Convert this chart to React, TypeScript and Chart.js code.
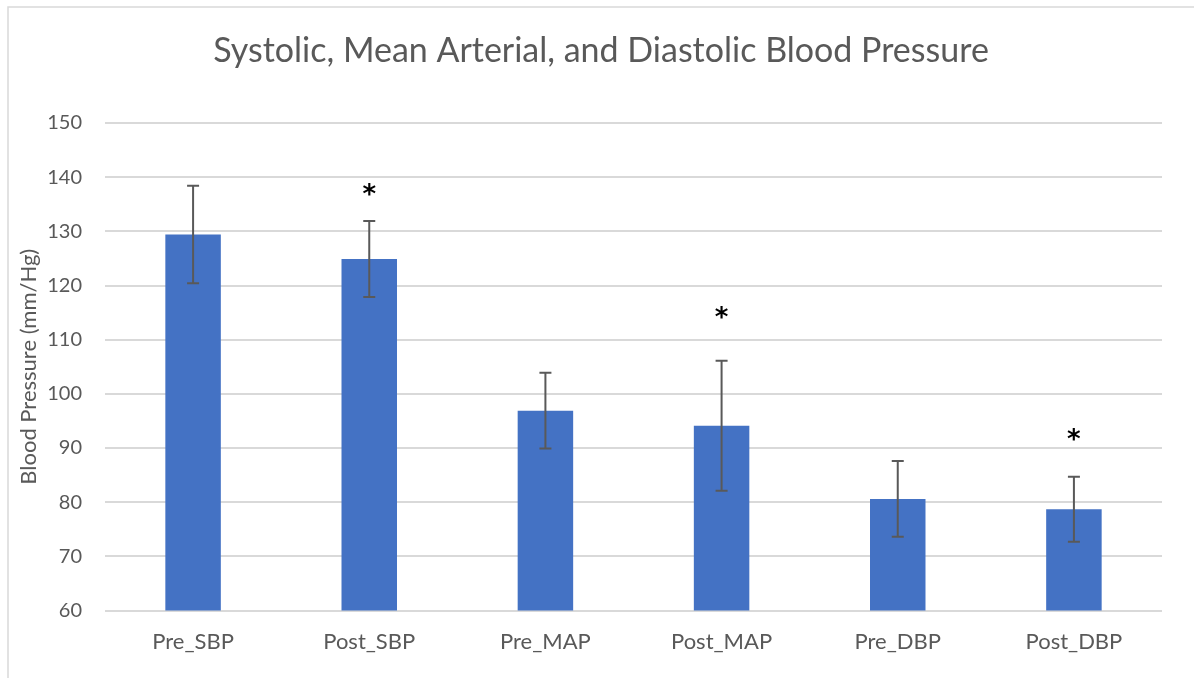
import React, { useEffect, useRef } from "react";
import { Chart, registerables } from "chart.js";

Chart.register(...registerables);

const categories = ["Pre_SBP", "Post_SBP", "Pre_MAP", "Post_MAP", "Pre_DBP", "Post_DBP"];
const means = [129.4, 124.9, 96.9, 94.1, 80.6, 78.7];
const errors = [9.0, 7.0, 7.0, 12.0, 7.0, 6.0];
// asterisk marks (significance) in data units; null = none
const asteriskValues: (number | null)[] = [null, 138, null, 115.3, null, 92.8];
const yTicks = [60, 70, 80, 90, 100, 110, 120, 130, 140, 150];

const TITLE = "Systolic, Mean Arterial, and Diastolic Blood Pressure";
const Y_TITLE = "Blood Pressure (mm/Hg)";
const FONT = "Lato";
const TEXT = "#595959";

export default function App() {
  const ref = useRef<HTMLCanvasElement | null>(null);

  useEffect(() => {
    if (!ref.current) return;

    const framePlugin = {
      id: "frame",
      beforeDraw(chart: any) {
        const ctx = chart.ctx;
        ctx.save();
        ctx.fillStyle = "#ffffff";
        ctx.fillRect(0, 0, chart.width, chart.height);
        ctx.strokeStyle = "#d9d9d9";
        ctx.lineWidth = 1.5;
        ctx.beginPath();
        ctx.moveTo(8, chart.height);
        ctx.lineTo(8, 7);
        ctx.lineTo(chart.width, 7);
        ctx.stroke();
        ctx.restore();
      },
      afterDraw(chart: any) {
        const ctx = chart.ctx;
        ctx.save();
        ctx.fillStyle = TEXT;
        ctx.font = `34px ${FONT}`;
        ctx.textAlign = "center";
        ctx.textBaseline = "alphabetic";
        ctx.fillText(TITLE, 601, 62);
        ctx.restore();
      },
    };

    const errorPlugin = {
      id: "errorbars",
      afterDatasetsDraw(chart: any) {
        const ctx = chart.ctx;
        const meta = chart.getDatasetMeta(0);
        const y = chart.scales.y;
        ctx.save();
        ctx.strokeStyle = "#595959";
        ctx.lineWidth = 2;
        meta.data.forEach((bar: any, i: number) => {
          const x = bar.x;
          const top = y.getPixelForValue(means[i] + errors[i]);
          const bot = y.getPixelForValue(means[i] - errors[i]);
          ctx.beginPath();
          ctx.moveTo(x, top);
          ctx.lineTo(x, bot);
          ctx.moveTo(x - 6, top);
          ctx.lineTo(x + 6, top);
          ctx.moveTo(x - 6, bot);
          ctx.lineTo(x + 6, bot);
          ctx.stroke();
          const a = asteriskValues[i];
          if (a !== null && a !== undefined) {
            ctx.fillStyle = "#000000";
            ctx.font = `bold 26px "DejaVu Sans"`;
            ctx.textAlign = "center";
            ctx.textBaseline = "alphabetic";
            ctx.fillText("*", x, y.getPixelForValue(a) + 15);
          }
        });
        ctx.restore();
      },
    };

    const chart = new Chart(ref.current, {
      type: "bar",
      data: {
        labels: categories,
        datasets: [
          {
            data: means,
            backgroundColor: "#4472C4",
            borderWidth: 0,
            barPercentage: 0.315,
            categoryPercentage: 1,
          },
        ],
      },
      options: {
        responsive: false,
        animation: false,
        layout: { padding: { left: 0, right: 32, top: 123, bottom: 0 } },
        plugins: {
          legend: { display: false },
          title: { display: false },
          tooltip: { enabled: false },
        },
        scales: {
          x: {
            grid: { display: false, drawTicks: false },
            border: { display: false },
            ticks: {
              color: TEXT,
              font: { family: FONT, size: 22 },
              padding: 18,
              maxRotation: 0,
            },
            afterFit(scale: any) {
              scale.height = 67.5;
            },
          },
          y: {
            min: 60,
            max: 150,
            afterBuildTicks(scale: any) {
              scale.ticks = yTicks.map((v) => ({ value: v }));
            },
            grid: { color: "#d9d9d9", lineWidth: 2, drawTicks: false },
            border: { display: false },
            ticks: {
              color: TEXT,
              font: { family: FONT, size: 20 },
              padding: 23,
            },
            title: {
              display: true,
              text: Y_TITLE,
              color: TEXT,
              font: { family: FONT, size: 22 },
              padding: { top: 16, bottom: 0 },
            },
            afterFit(scale: any) {
              scale.width = 105;
            },
          },
        },
      },
      plugins: [framePlugin, errorPlugin],
    });

    return () => chart.destroy();
  }, []);

  return (
    <div style={{ position: "absolute", left: 0, top: 0, width: 1194, height: 678 }}>
      <canvas ref={ref} width={1194} height={678} style={{ display: "block" }} />
    </div>
  );
}
